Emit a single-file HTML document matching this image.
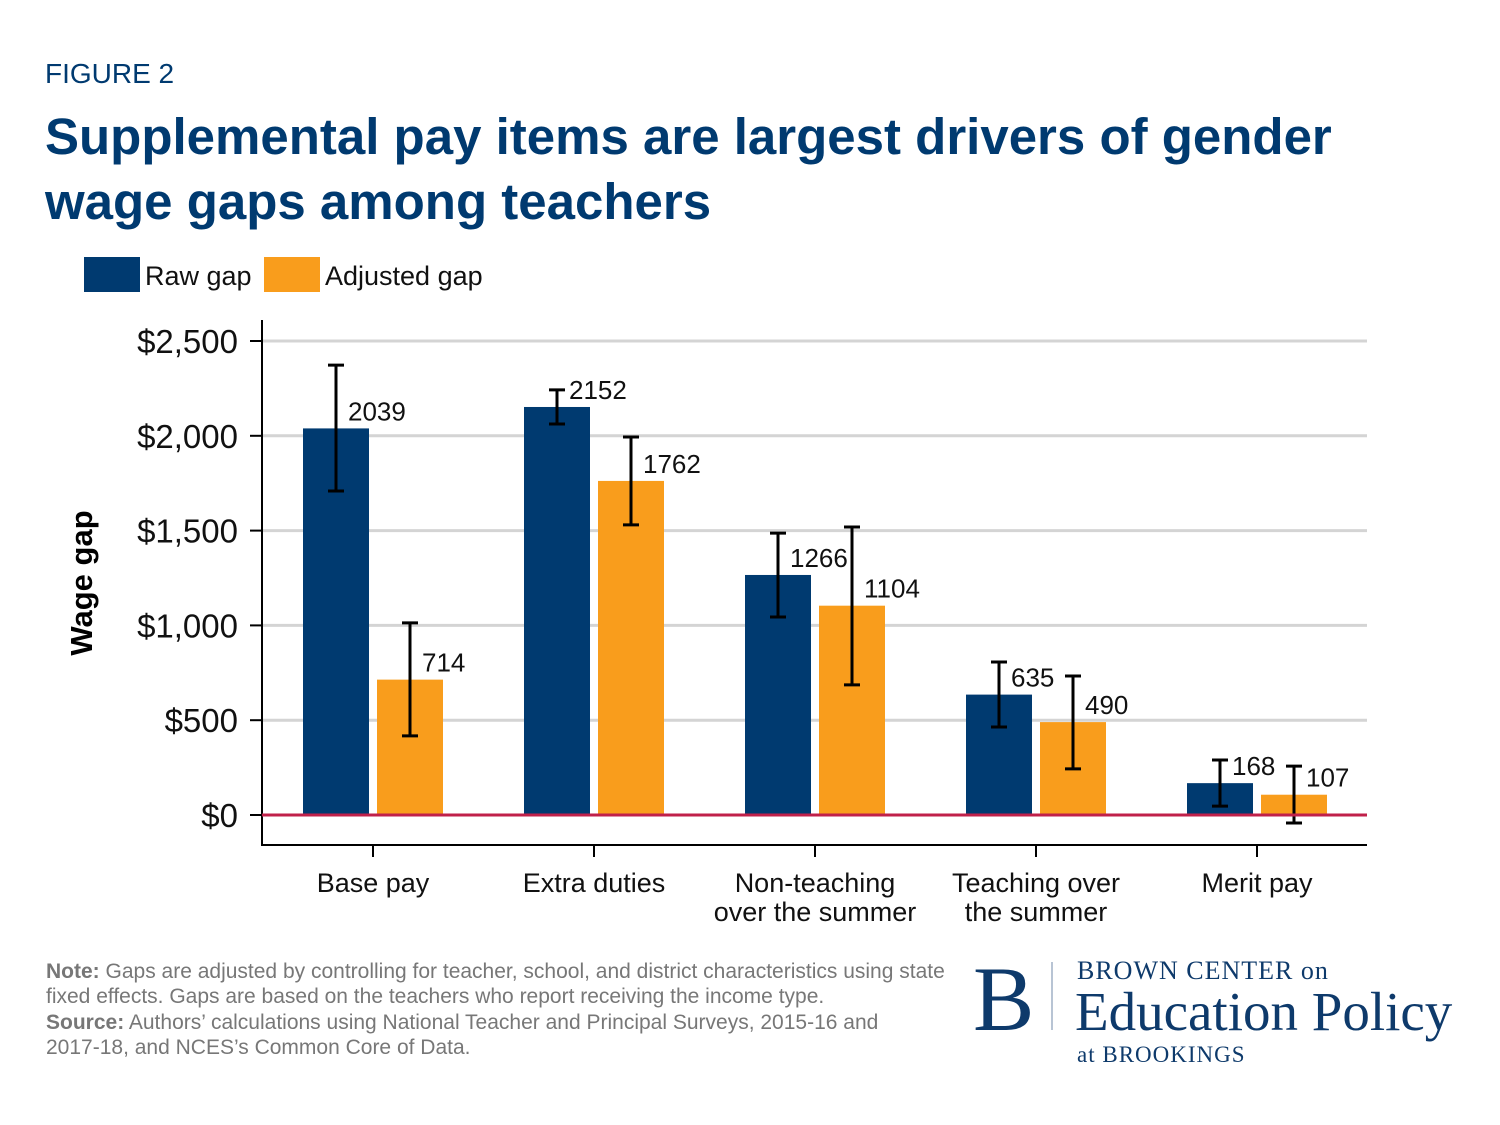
<!DOCTYPE html>
<html><head><meta charset="utf-8"><style>
body{margin:0;width:1500px;height:1125px;background:#fff;position:relative;overflow:hidden;font-family:"Liberation Sans",sans-serif}
.abs{position:absolute}
</style></head><body>
<div class="abs" style="left:45px;top:58px;font-size:28px;color:#003a70">FIGURE 2</div>
<div class="abs" style="left:45px;top:104px;font-size:51px;font-weight:bold;color:#003a70;line-height:65px;letter-spacing:0px">Supplemental pay items are largest drivers of gender<br>wage gaps among teachers</div>
<svg class="abs" style="left:0;top:0" width="1500" height="1125" id="chart">
<g>
<rect x="84" y="257" width="56" height="35" fill="#003a70"/>
<text x="145" y="285" font-size="27" fill="#111">Raw gap</text>
<rect x="264" y="257" width="56" height="35" fill="#f99d1c"/>
<text x="325" y="285" font-size="27" fill="#111">Adjusted gap</text>
</g>
<text transform="translate(92,583) rotate(-90)" text-anchor="middle" font-size="31" font-weight="bold" fill="#000">Wage gap</text>
<g id="plot"></g>
</svg>
<div class="abs" style="left:46px;top:959px;font-size:21px;color:#777;line-height:25.3px"><b>Note:</b> Gaps are adjusted by controlling for teacher, school, and district characteristics using state<br>fixed effects. Gaps are based on the teachers who report receiving the income type.<br><b>Source:</b> Authors’ calculations using National Teacher and Principal Surveys, 2015-16 and<br>2017-18, and NCES’s Common Core of Data.</div>
<div class="abs" style="left:970px;top:950px;width:500px;height:130px;color:#0e3a6b;font-family:'Liberation Serif',serif">
<div class="abs" style="left:3px;top:-4px;font-size:92px">B</div>
<div class="abs" style="left:81px;top:12px;width:2px;height:68px;background:#b8c4d4"></div>
<div class="abs" style="left:107px;top:6px;font-size:26px;letter-spacing:1px">BROWN CENTER on</div>
<div class="abs" style="left:105px;top:30px;font-size:55px">Education Policy</div>
<div class="abs" style="left:107px;top:92px;font-size:23px;letter-spacing:1px">at BROOKINGS</div>
</div>
<script>
const categories=["Base pay","Extra duties","Non-teaching|over the summer","Teaching over|the summer","Merit pay"];
const rawValues=[2039,2152,1266,635,168];
const adjValues=[714,1762,1104,490,107];
const rawLow=[1709,2062,1044,464,47];
const rawHigh=[2373,2242,1487,807,290];
const adjLow=[417,1530,686,243,-42];
const adjHigh=[1013,1994,1519,733,258];
const yTicks=[0,500,1000,1500,2000,2500];
const yTickLabels=["$0","$500","$1,000","$1,500","$2,000","$2,500"];
const NS="http://www.w3.org/2000/svg";
const g=document.getElementById('plot');
const y0=815,yScale=(815-341)/2500;
const y=v=>y0-v*yScale;
const x=i=>373+i*221;
function el(t,a){const e=document.createElementNS(NS,t);for(const k in a)e.setAttribute(k,a[k]);g.appendChild(e);return e;}
yTicks.forEach((t,i)=>{
 if(t>0){const l=el('line',{x1:262,x2:1367,y1:y(t),y2:y(t),stroke:'#d4d4d4','stroke-width':3});
 
 }
 const tk=el('line',{x1:250,x2:262,y1:y(t),y2:y(t),stroke:'#000','stroke-width':2});
 
 
 const tx=el('text',{x:238,y:y(t)+12,'text-anchor':'end','font-size':33,fill:'#111'});tx.textContent=yTickLabels[i];
 
 
});
const ax=el('path',{d:'M262 320 V845 H1367',fill:'none',stroke:'#000','stroke-width':2});


function bar(cx,v,lo,hi,color,name){
 const r=el('rect',{x:cx-33,y:Math.min(y(v),y0),width:66,height:Math.abs(y0-y(v)),fill:color});
 
 
 const e=el('path',{d:`M${cx} ${y(hi)} V${y(lo)} M${cx-8} ${y(hi)} H${cx+8} M${cx-8} ${y(lo)} H${cx+8}`,stroke:'#000','stroke-width':3,fill:'none'});
 
 
 const t=el('text',{x:cx+12,y:y(v)-8,'font-size':26,fill:'#111'});t.textContent=v;
 
 
}
categories.forEach((c,i)=>{
 bar(x(i)-37,rawValues[i],rawLow[i],rawHigh[i],'#003a70','bar-raw-'+i);
 bar(x(i)+37,adjValues[i],adjLow[i],adjHigh[i],'#f99d1c','bar-adjusted-'+i);
 const tk=el('line',{x1:x(i),x2:x(i),y1:845,y2:857,stroke:'#000','stroke-width':2});
 
 
 c.split('|').forEach((ln,j)=>{
  const t=el('text',{x:x(i),y:892+j*29,'text-anchor':'middle','font-size':27,fill:'#111'});t.textContent=ln;
  
  
 });
});
const z=el('line',{x1:262,x2:1367,y1:y0,y2:y0,stroke:'#c0204a','stroke-width':3});


</script>
</body></html>
